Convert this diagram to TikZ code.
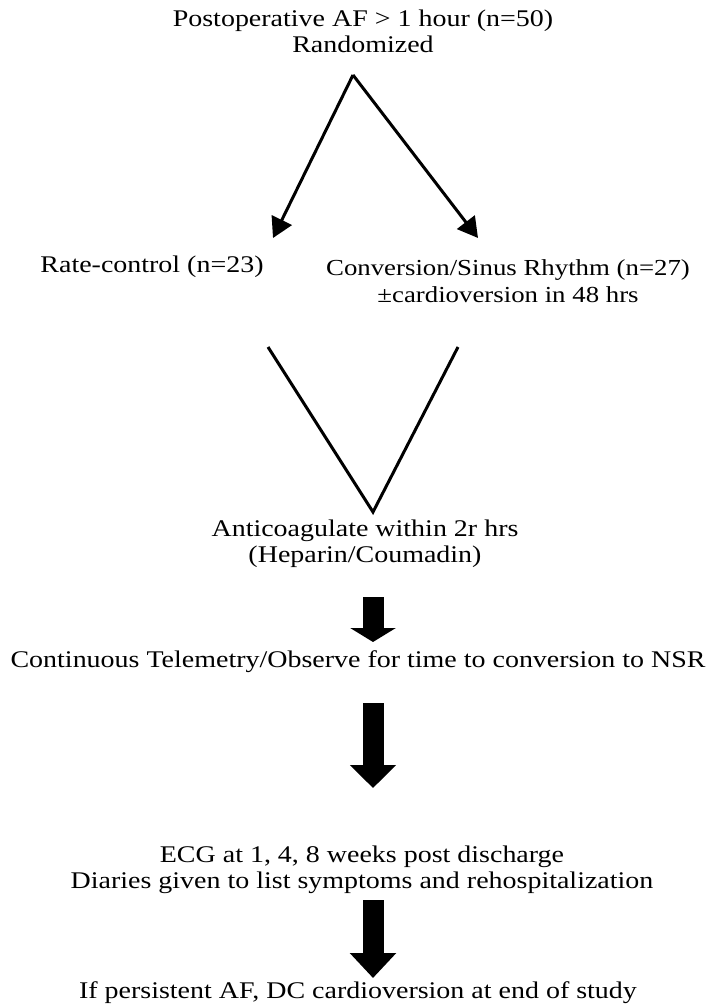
\documentclass[tikz,border=0pt]{standalone}
\usepackage{fontspec}
\setmainfont[FakeStretch=1.17]{Liberation Serif}
\usetikzlibrary{arrows.meta}
\begin{document}
\begin{tikzpicture}[
    x=0.025cm, y=-0.025cm,
    txt/.style={align=center, inner sep=0pt, font=\fontsize{17}{18.5}\selectfont},
    splitarr/.style={line width=0.075cm, -{Triangle[length=0.5cm, width=0.55cm]}},
    vline/.style={line width=0.075cm, line join=miter},
    bigarr/.style={line width=0.525cm, -{Triangle[length=#1, width=1.125cm]}}
]
    \useasboundingbox (0,0) rectangle (717,1004);

    \node[txt] (post) at (363,31) {Postoperative AF > 1 hour (n=50)\\Randomized};
    \node[txt] (rate) at (152,267) {Rate-control (n=23)};
    \node[txt, font=\fontsize{16.3}{19.5}\selectfont] (conv) at (508,281) {Conversion/Sinus Rhythm (n=27)\\±cardioversion in 48 hrs};
    \node[txt] (anti) at (365,544) {Anticoagulate within 2r hrs\\(Heparin/Coumadin)};
    \node[txt] (tele) at (358,662) {Continuous Telemetry/Observe for time to conversion to NSR};
    \node[txt] (ecg) at (362,870) {ECG at 1, 4, 8 weeks post discharge\\Diaries given to list symptoms and rehospitalization};
    \node[txt] (dc) at (358,993) {If persistent AF, DC cardioversion at end of study};

    % split after randomization
    \coordinate (apex) at (353,75);
    \coordinate (rtip) at (273,238);
    \coordinate (ctip) at (478,238);
    \draw[splitarr] (apex) -- (rtip);
    \draw[splitarr] (apex) -- (ctip);

    % both arms join again
    \coordinate (rtop) at (268,347);
    \coordinate (join) at (373,512);
    \coordinate (ctop) at (458,347);
    \draw[vline] (rtop) -- (join) -- (ctop);

    % block arrows
    \coordinate (a1) at (373,597);
    \coordinate (b1) at (373,642);
    \coordinate (a2) at (373,703);
    \coordinate (b2) at (373,788);
    \coordinate (a3) at (373,900);
    \coordinate (b3) at (373,978);
    \draw[bigarr=0.35cm] (a1) -- (b1);
    \draw[bigarr=0.575cm] (a2) -- (b2);
    \draw[bigarr=0.625cm] (a3) -- (b3);
\end{tikzpicture}
\end{document}
